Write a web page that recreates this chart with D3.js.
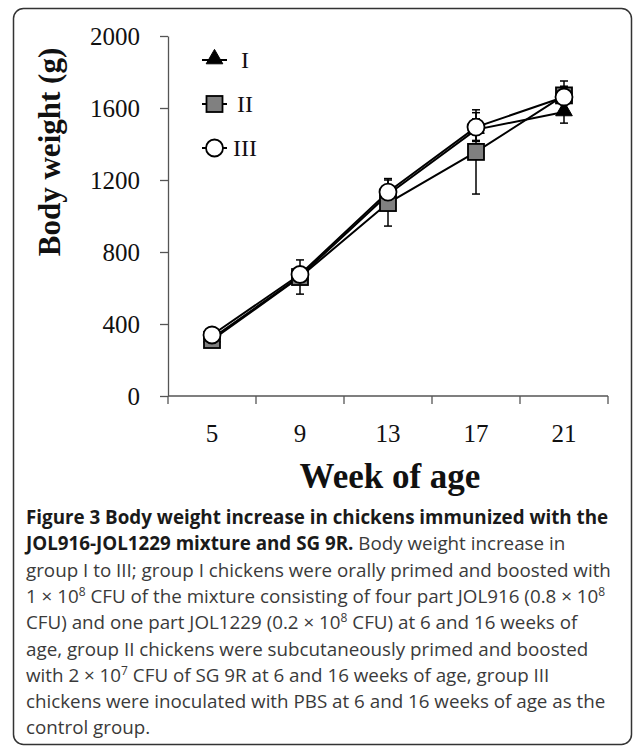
<!DOCTYPE html>
<html>
<head>
<meta charset="utf-8">
<script src="https://cdn.jsdelivr.net/npm/d3@7"></script>
<style>
  body { margin: 0; background: #fff; }
  svg { display: block; }
</style>
</head>
<body>
<div id="chart"></div>
<script>
// values
let weeks = ["5", "9", "13", "17", "21"];
let groupI = [320, 665, 1120, 1480, 1578];
let groupII = [311, 661, 1072, 1356, 1670];
let groupIII = [339, 675, 1133, 1494, 1661];
let errI = [12, 40, 50, 60, 62];
let errII = [12, 95, 128, 234, 80];
let errIII = [12, 40, 75, 80, 60];
let yTicks = [0, 400, 800, 1200, 1600, 2000];
let groupNames = ["I", "II", "III"];

let captionLines = [
    [{ t: "Figure 3 Body weight increase in chickens immunized with the", b: true }],
    [{ t: "JOL916-JOL1229 mixture and SG 9R.", b: true }, { t: " Body weight increase in" }],
    [{ t: "group I to III; group I chickens were orally primed and boosted with" }],
    [{ t: "1 \u00d7 10" }, { t: "8", sup: true }, { t: " CFU of the mixture consisting of four part JOL916 (0.8 \u00d7 10" }, { t: "8", sup: true }],
    [{ t: "CFU) and one part JOL1229 (0.2 \u00d7 10" }, { t: "8", sup: true }, { t: " CFU) at 6 and 16 weeks of" }],
    [{ t: "age, group II chickens were subcutaneously primed and boosted" }],
    [{ t: "with 2 \u00d7 10" }, { t: "7", sup: true }, { t: " CFU of SG 9R at 6 and 16 weeks of age, group III" }],
    [{ t: "chickens were inoculated with PBS at 6 and 16 weeks of age as the" }],
    [{ t: "control group." }]
];

let width = 633, height = 746;
let svg = d3.select("#chart").append("svg").attr("width", width).attr("height", height);

// frame
svg.append("rect")
    .attr("x", 13.5).attr("y", 8.5)
    .attr("width", 618).attr("height", 736)
    .attr("rx", 10)
    .attr("fill", "none")
    .attr("stroke", "#333")
    .attr("stroke-width", 1.5);

let x = d3.scaleBand().domain(weeks).range([168, 608]);
let y = d3.scaleLinear().domain([0, 2000]).range([396, 36]);
let serif = "'Liberation Serif', 'Times New Roman', serif";

// y axis
let yAxis = svg.append("g")
    .attr("transform", "translate(168,0)")
    .call(d3.axisLeft(y).tickValues(yTicks).tickFormat(d3.format("d")).tickSize(8).tickSizeOuter(0).tickPadding(20));
yAxis.selectAll("path, line").attr("stroke", "#555").attr("stroke-width", 1.3);
yAxis.selectAll("text")
    .attr("font-family", serif).attr("font-size", 25).attr("fill", "#111");

// x axis (ticks sit between the categories)
let xa = svg.append("g");
xa.append("line")
    .attr("x1", x.range()[0]).attr("x2", x.range()[1])
    .attr("y1", y(0)).attr("y2", y(0))
    .attr("stroke", "#555").attr("stroke-width", 1.3);
xa.selectAll(".xtick").data(weeks.map(w => x(w)).concat([x.range()[1]])).enter().append("line")
    .attr("x1", d => d).attr("x2", d => d)
    .attr("y1", y(0)).attr("y2", y(0) + 8)
    .attr("stroke", "#555").attr("stroke-width", 1.3);
xa.selectAll(".xlabel").data(weeks).enter().append("text")
    .attr("x", d => x(d) + x.bandwidth() / 2)
    .attr("y", 442)
    .attr("text-anchor", "middle")
    .attr("font-family", serif).attr("font-size", 25).attr("fill", "#111")
    .text(d => d);

// axis titles
svg.append("text")
    .attr("transform", "translate(60,152) rotate(-90)")
    .attr("text-anchor", "middle")
    .attr("font-family", serif).attr("font-weight", "bold").attr("font-size", 31)
    .attr("fill", "#111")
    .text("Body weight (g)");
svg.append("text")
    .attr("x", 390).attr("y", 488)
    .attr("text-anchor", "middle")
    .attr("font-family", serif).attr("font-weight", "bold").attr("font-size", 35)
    .attr("fill", "#111")
    .text("Week of age");

let series = [
    { name: groupNames[0], values: groupI, err: errI, shape: "tri" },
    { name: groupNames[1], values: groupII, err: errII, shape: "sq" },
    { name: groupNames[2], values: groupIII, err: errIII, shape: "circ" }
];

let cx = w => x(w) + x.bandwidth() / 2;
let line = d3.line().x((d, i) => cx(weeks[i])).y(d => y(d));

function drawMarker(g, shape, px, py) {
    if (shape === "tri") {
        g.append("path")
            .attr("d", d3.symbol().type(d3.symbolTriangle).size(120)())
            .attr("transform", `translate(${px},${py - 1})`)
            .attr("fill", "#000").attr("stroke", "#000").attr("stroke-width", 1);
    } else if (shape === "sq") {
        g.append("rect")
            .attr("x", px - 8).attr("y", py - 8)
            .attr("width", 16).attr("height", 16)
            .attr("fill", "#808080").attr("stroke", "#000").attr("stroke-width", 1.8);
    } else {
        g.append("circle")
            .attr("cx", px).attr("cy", py).attr("r", 8.5)
            .attr("fill", "#fff").attr("stroke", "#000").attr("stroke-width", 1.8);
    }
}

// error bars, then lines, then markers
series.forEach(s => {
    let g = svg.append("g");
    s.values.forEach((v, i) => {
        let px = cx(weeks[i]);
        let top = y(v + s.err[i]), bot = y(v - s.err[i]);
        g.append("line").attr("x1", px).attr("x2", px).attr("y1", top).attr("y2", bot)
            .attr("stroke", "#000").attr("stroke-width", 1.5);
        [top, bot].forEach(yy => {
            g.append("line").attr("x1", px - 4).attr("x2", px + 4).attr("y1", yy).attr("y2", yy)
                .attr("stroke", "#000").attr("stroke-width", 1.5);
        });
    });
});
series.forEach(s => {
    svg.append("path").datum(s.values)
        .attr("d", line)
        .attr("fill", "none").attr("stroke", "#000").attr("stroke-width", 2);
});
series.forEach(s => {
    let g = svg.append("g");
    s.values.forEach((v, i) => drawMarker(g, s.shape, cx(weeks[i]), y(v)));
});

// legend
let legendY = [60, 104, 148];
series.forEach((s, i) => {
    let g = svg.append("g");
    g.append("line").attr("x1", 202).attr("x2", 227)
        .attr("y1", legendY[i]).attr("y2", legendY[i])
        .attr("stroke", "#000").attr("stroke-width", 2);
    drawMarker(g, s.shape, 214.5, legendY[i]);
    g.append("text")
        .attr("x", 245).attr("y", legendY[i] + 8)
        .attr("text-anchor", "middle")
        .attr("font-family", serif).attr("font-size", 24).attr("fill", "#111")
        .text(s.name);
});

// caption
let cap = svg.append("g");
captionLines.forEach((parts, i) => {
    let t = cap.append("text")
        .attr("x", 26).attr("y", 524 + i * 26.3)
        .attr("font-family", "'Open Sans', 'Noto Sans', sans-serif")
        .attr("font-size", 18.8)
        .attr("fill", "#3a3a3a");
    parts.forEach((p, j) => {
        let sp = t.append("tspan").text(p.t);
        if (p.b) sp.attr("font-weight", "bold").attr("fill", "#1a1a1a");
        if (p.sup) sp.attr("font-size", 12).attr("dy", -7);
        else if (j > 0 && parts[j - 1].sup) sp.attr("dy", 7);
    });
});
</script>
</body>
</html>
